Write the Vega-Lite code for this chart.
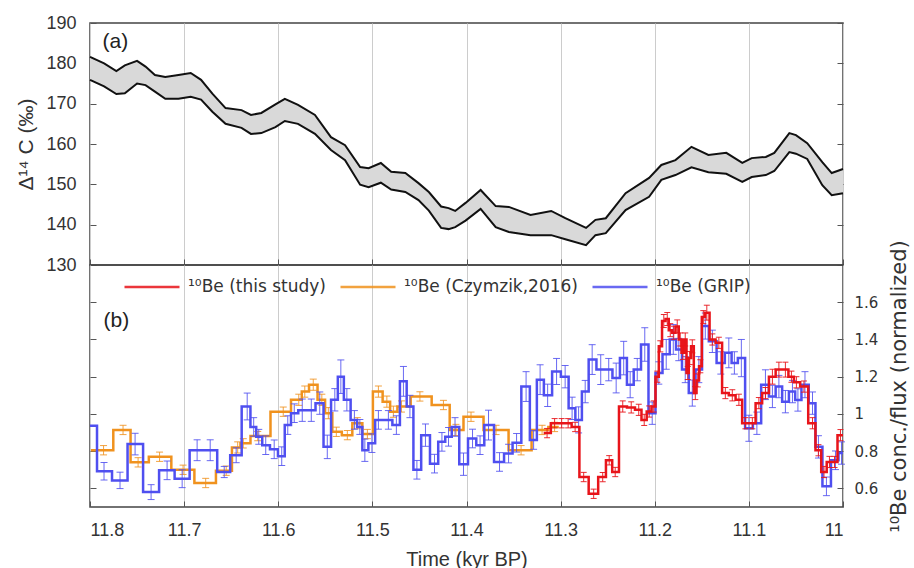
{
  "$schema": "https://vega.github.io/schema/vega-lite/v6.json",
  "padding": {"left": 15, "top": 13, "right": 0, "bottom": 0},
  "background": "white",
  "config": {
    "view": {"stroke": "#444", "strokeWidth": 1.5},
    "concat": {"spacing": 0},
    "font": "Liberation Sans",
    "axis": {"labelFont": "Liberation Sans", "labelFontSize": 18, "labelColor": "#333", "titleFont": "Liberation Sans", "titleFontSize": 20, "titleFontWeight": "normal", "titleColor": "#333", "domain": false, "tickColor": "#555", "tickSize": -6, "gridColor": "#cccccc", "gridWidth": 1}
  },
  "datasets": {
    "d14c": [
      {"t": 11.800, "hi": 181.6, "lo": 175.9}, {"t": 11.785, "hi": 180.0, "lo": 174.3}, {"t": 11.772, "hi": 178.1, "lo": 172.4},
      {"t": 11.763, "hi": 179.5, "lo": 172.6}, {"t": 11.750, "hi": 180.6, "lo": 175.0}, {"t": 11.741, "hi": 179.2, "lo": 174.6},
      {"t": 11.731, "hi": 177.1, "lo": 173.0}, {"t": 11.720, "hi": 176.6, "lo": 171.2}, {"t": 11.706, "hi": 177.1, "lo": 171.2},
      {"t": 11.693, "hi": 177.6, "lo": 171.7}, {"t": 11.682, "hi": 175.9, "lo": 171.0}, {"t": 11.670, "hi": 172.5, "lo": 168.0},
      {"t": 11.656, "hi": 168.9, "lo": 165.0}, {"t": 11.639, "hi": 168.4, "lo": 164.0}, {"t": 11.629, "hi": 167.2, "lo": 162.5},
      {"t": 11.618, "hi": 167.7, "lo": 162.7}, {"t": 11.603, "hi": 169.8, "lo": 164.2}, {"t": 11.593, "hi": 171.2, "lo": 165.7},
      {"t": 11.579, "hi": 169.7, "lo": 165.0}, {"t": 11.561, "hi": 167.2, "lo": 162.5}, {"t": 11.544, "hi": 161.7, "lo": 158.5},
      {"t": 11.529, "hi": 159.7, "lo": 156.0}, {"t": 11.513, "hi": 154.3, "lo": 149.9}, {"t": 11.504, "hi": 154.0, "lo": 149.3},
      {"t": 11.491, "hi": 155.3, "lo": 150.4}, {"t": 11.480, "hi": 153.1, "lo": 148.7}, {"t": 11.465, "hi": 152.8, "lo": 148.1},
      {"t": 11.451, "hi": 150.3, "lo": 146.1}, {"t": 11.440, "hi": 148.1, "lo": 143.5}, {"t": 11.427, "hi": 144.5, "lo": 139.2},
      {"t": 11.419, "hi": 144.1, "lo": 138.9}, {"t": 11.412, "hi": 143.4, "lo": 139.4}, {"t": 11.401, "hi": 145.4, "lo": 141.0},
      {"t": 11.385, "hi": 148.6, "lo": 143.9}, {"t": 11.369, "hi": 144.6, "lo": 139.4}, {"t": 11.355, "hi": 144.4, "lo": 138.2},
      {"t": 11.332, "hi": 142.4, "lo": 137.4}, {"t": 11.310, "hi": 143.4, "lo": 137.4}, {"t": 11.295, "hi": 141.6, "lo": 136.4},
      {"t": 11.273, "hi": 139.2, "lo": 134.9}, {"t": 11.263, "hi": 141.2, "lo": 137.4}, {"t": 11.252, "hi": 141.6, "lo": 137.9},
      {"t": 11.231, "hi": 147.8, "lo": 143.6}, {"t": 11.206, "hi": 151.6, "lo": 146.9}, {"t": 11.193, "hi": 154.8, "lo": 151.1},
      {"t": 11.178, "hi": 156.0, "lo": 152.3}, {"t": 11.161, "hi": 159.3, "lo": 154.2}, {"t": 11.143, "hi": 157.3, "lo": 153.0},
      {"t": 11.124, "hi": 157.8, "lo": 152.6}, {"t": 11.107, "hi": 155.3, "lo": 150.6}, {"t": 11.097, "hi": 156.5, "lo": 151.8},
      {"t": 11.082, "hi": 156.8, "lo": 152.3}, {"t": 11.073, "hi": 157.8, "lo": 153.3}, {"t": 11.057, "hi": 162.7, "lo": 158.0},
      {"t": 11.050, "hi": 162.2, "lo": 157.6}, {"t": 11.038, "hi": 160.2, "lo": 156.3}, {"t": 11.022, "hi": 155.5, "lo": 149.8},
      {"t": 11.012, "hi": 152.8, "lo": 147.3}, {"t": 11.000, "hi": 153.8, "lo": 147.8}
    ],
    "be": [
      {"s": "O", "t": 11.799, "v": 0.805}, {"s": "O", "t": 11.7856, "v": 0.805, "e": 0.025}, {"s": "O", "t": 11.7649, "v": 0.914, "e": 0.025},
      {"s": "O", "t": 11.7489, "v": 0.74, "e": 0.025}, {"s": "O", "t": 11.7261, "v": 0.77, "e": 0.025}, {"s": "O", "t": 11.7011, "v": 0.70, "e": 0.025},
      {"s": "O", "t": 11.6771, "v": 0.629, "e": 0.025}, {"s": "O", "t": 11.6553, "v": 0.695, "e": 0.025}, {"s": "O", "t": 11.6431, "v": 0.82, "e": 0.03},
      {"s": "O", "t": 11.6372, "v": 0.842, "e": 0.025}, {"s": "O", "t": 11.6218, "v": 0.881, "e": 0.025}, {"s": "O", "t": 11.5947, "v": 1.012, "e": 0.025},
      {"s": "O", "t": 11.5782, "v": 1.076, "e": 0.03}, {"s": "O", "t": 11.5718, "v": 1.12, "e": 0.03}, {"s": "O", "t": 11.5628, "v": 1.157, "e": 0.03},
      {"s": "O", "t": 11.5537, "v": 1.076, "e": 0.03}, {"s": "O", "t": 11.5468, "v": 1.004, "e": 0.03}, {"s": "O", "t": 11.5383, "v": 0.904, "e": 0.025},
      {"s": "O", "t": 11.5266, "v": 0.886, "e": 0.025}, {"s": "O", "t": 11.5160, "v": 0.95, "e": 0.03}, {"s": "O", "t": 11.5053, "v": 0.892, "e": 0.025},
      {"s": "O", "t": 11.4936, "v": 1.12, "e": 0.03}, {"s": "O", "t": 11.4846, "v": 1.066, "e": 0.03}, {"s": "O", "t": 11.4777, "v": 1.012, "e": 0.03},
      {"s": "O", "t": 11.4691, "v": 1.04, "e": 0.03}, {"s": "O", "t": 11.4495, "v": 1.094, "e": 0.025}, {"s": "O", "t": 11.4245, "v": 1.048, "e": 0.025},
      {"s": "O", "t": 11.4112, "v": 0.914, "e": 0.03}, {"s": "O", "t": 11.3952, "v": 0.985, "e": 0.025}, {"s": "O", "t": 11.3686, "v": 0.914, "e": 0.025},
      {"s": "O", "t": 11.3420, "v": 0.805, "e": 0.025}, {"s": "O", "t": 11.3197, "v": 0.914, "e": 0.025}, {"s": "O", "t": 11.3064, "v": 0.93, "e": 0.025},
      {"s": "O", "t": 11.302, "v": 0.93},

      {"s": "B", "t": 11.8, "v": 0.937}, {"s": "B", "t": 11.7851, "v": 0.692, "e": 0.047}, {"s": "B", "t": 11.7681, "v": 0.643, "e": 0.044},
      {"s": "B", "t": 11.7521, "v": 0.838, "e": 0.058}, {"s": "B", "t": 11.7351, "v": 0.58, "e": 0.04}, {"s": "B", "t": 11.7181, "v": 0.697, "e": 0.05},
      {"s": "B", "t": 11.7021, "v": 0.652, "e": 0.048}, {"s": "B", "t": 11.6862, "v": 0.805, "e": 0.056}, {"s": "B", "t": 11.6723, "v": 0.805, "e": 0.056},
      {"s": "B", "t": 11.6574, "v": 0.688, "e": 0.03}, {"s": "B", "t": 11.6447, "v": 0.778, "e": 0.04}, {"s": "B", "t": 11.6330, "v": 1.04, "e": 0.072},
      {"s": "B", "t": 11.6261, "v": 0.93, "e": 0.05}, {"s": "B", "t": 11.6207, "v": 0.877, "e": 0.04}, {"s": "B", "t": 11.6133, "v": 0.832, "e": 0.05},
      {"s": "B", "t": 11.6043, "v": 0.81, "e": 0.05}, {"s": "B", "t": 11.5963, "v": 0.773, "e": 0.05}, {"s": "B", "t": 11.5899, "v": 0.94, "e": 0.05},
      {"s": "B", "t": 11.5830, "v": 1.004, "e": 0.05}, {"s": "B", "t": 11.5745, "v": 1.02, "e": 0.06}, {"s": "B", "t": 11.5649, "v": 1.02, "e": 0.06},
      {"s": "B", "t": 11.5559, "v": 1.058, "e": 0.06}, {"s": "B", "t": 11.5479, "v": 0.823, "e": 0.063}, {"s": "B", "t": 11.5399, "v": 1.076, "e": 0.06},
      {"s": "B", "t": 11.5335, "v": 1.2, "e": 0.09}, {"s": "B", "t": 11.5271, "v": 1.076, "e": 0.06}, {"s": "B", "t": 11.5191, "v": 0.968, "e": 0.05},
      {"s": "B", "t": 11.5133, "v": 0.93, "e": 0.04}, {"s": "B", "t": 11.5080, "v": 0.805, "e": 0.06}, {"s": "B", "t": 11.5005, "v": 0.843, "e": 0.05},
      {"s": "B", "t": 11.4936, "v": 0.968, "e": 0.05}, {"s": "B", "t": 11.4830, "v": 0.968, "e": 0.05}, {"s": "B", "t": 11.4745, "v": 0.94, "e": 0.05},
      {"s": "B", "t": 11.4670, "v": 1.175, "e": 0.08}, {"s": "B", "t": 11.4601, "v": 1.04, "e": 0.06}, {"s": "B", "t": 11.4527, "v": 0.70, "e": 0.05},
      {"s": "B", "t": 11.4436, "v": 0.886, "e": 0.06}, {"s": "B", "t": 11.4340, "v": 0.733, "e": 0.05}, {"s": "B", "t": 11.4261, "v": 0.85, "e": 0.05},
      {"s": "B", "t": 11.4191, "v": 0.877, "e": 0.05}, {"s": "B", "t": 11.4122, "v": 0.93, "e": 0.05}, {"s": "B", "t": 11.4032, "v": 0.73, "e": 0.06},
      {"s": "B", "t": 11.3936, "v": 0.868, "e": 0.05}, {"s": "B", "t": 11.3856, "v": 0.832, "e": 0.05}, {"s": "B", "t": 11.3766, "v": 0.94, "e": 0.08},
      {"s": "B", "t": 11.3649, "v": 0.742, "e": 0.05}, {"s": "B", "t": 11.3553, "v": 0.787, "e": 0.05}, {"s": "B", "t": 11.3468, "v": 0.845, "e": 0.05},
      {"s": "B", "t": 11.3367, "v": 1.147, "e": 0.08}, {"s": "B", "t": 11.3287, "v": 0.86, "e": 0.05}, {"s": "B", "t": 11.3218, "v": 1.184, "e": 0.08},
      {"s": "B", "t": 11.3138, "v": 1.10, "e": 0.06}, {"s": "B", "t": 11.3043, "v": 1.228, "e": 0.07}, {"s": "B", "t": 11.2952, "v": 1.20, "e": 0.06},
      {"s": "B", "t": 11.2878, "v": 1.03, "e": 0.06}, {"s": "B", "t": 11.2809, "v": 0.968, "e": 0.07}, {"s": "B", "t": 11.2739, "v": 1.12, "e": 0.06},
      {"s": "B", "t": 11.2665, "v": 1.292, "e": 0.08}, {"s": "B", "t": 11.2574, "v": 1.238, "e": 0.08}, {"s": "B", "t": 11.2489, "v": 1.238, "e": 0.06},
      {"s": "B", "t": 11.2410, "v": 1.193, "e": 0.08}, {"s": "B", "t": 11.2330, "v": 1.30, "e": 0.09}, {"s": "B", "t": 11.2261, "v": 1.157, "e": 0.07},
      {"s": "B", "t": 11.2186, "v": 1.238, "e": 0.06}, {"s": "B", "t": 11.2106, "v": 1.373, "e": 0.09}, {"s": "B", "t": 11.2027, "v": 1.004, "e": 0.06},
      {"s": "B", "t": 11.1957, "v": 1.22, "e": 0.06}, {"s": "B", "t": 11.1878, "v": 1.32, "e": 0.08}, {"s": "B", "t": 11.1803, "v": 1.40, "e": 0.08},
      {"s": "B", "t": 11.1745, "v": 1.346, "e": 0.06}, {"s": "B", "t": 11.1676, "v": 1.238, "e": 0.07}, {"s": "B", "t": 11.1601, "v": 1.112, "e": 0.07},
      {"s": "B", "t": 11.1532, "v": 1.238, "e": 0.07}, {"s": "B", "t": 11.1463, "v": 1.472, "e": 0.07}, {"s": "B", "t": 11.1388, "v": 1.39, "e": 0.06},
      {"s": "B", "t": 11.1298, "v": 1.274, "e": 0.06}, {"s": "B", "t": 11.1213, "v": 1.328, "e": 0.08}, {"s": "B", "t": 11.1154, "v": 1.274, "e": 0.06},
      {"s": "B", "t": 11.1080, "v": 1.30, "e": 0.1}, {"s": "B", "t": 11.1000, "v": 0.923, "e": 0.07}, {"s": "B", "t": 11.0915, "v": 0.95, "e": 0.06},
      {"s": "B", "t": 11.0824, "v": 1.157, "e": 0.08}, {"s": "B", "t": 11.0750, "v": 1.094, "e": 0.06}, {"s": "B", "t": 11.0681, "v": 1.147, "e": 0.06},
      {"s": "B", "t": 11.0612, "v": 1.066, "e": 0.06}, {"s": "B", "t": 11.0537, "v": 1.12, "e": 0.06}, {"s": "B", "t": 11.0479, "v": 1.075, "e": 0.06},
      {"s": "B", "t": 11.0404, "v": 1.157, "e": 0.07}, {"s": "B", "t": 11.0324, "v": 1.058, "e": 0.06}, {"s": "B", "t": 11.0261, "v": 0.823, "e": 0.06},
      {"s": "B", "t": 11.0176, "v": 0.611, "e": 0.05}, {"s": "B", "t": 11.0080, "v": 0.751, "e": 0.05}, {"s": "B", "t": 11.0016, "v": 0.79, "e": 0.06},
      {"s": "B", "t": 11.0, "v": 0.79},

      {"s": "R", "t": 11.318, "v": 0.897}, {"s": "R", "t": 11.3144, "v": 0.897, "e": 0.025}, {"s": "R", "t": 11.3064, "v": 0.95, "e": 0.025},
      {"s": "R", "t": 11.2989, "v": 0.95, "e": 0.025}, {"s": "R", "t": 11.2920, "v": 0.95, "e": 0.025}, {"s": "R", "t": 11.2846, "v": 0.93, "e": 0.025},
      {"s": "R", "t": 11.2755, "v": 0.661, "e": 0.025}, {"s": "R", "t": 11.2649, "v": 0.571, "e": 0.025}, {"s": "R", "t": 11.2553, "v": 0.661, "e": 0.025},
      {"s": "R", "t": 11.2484, "v": 0.751, "e": 0.025}, {"s": "R", "t": 11.2420, "v": 0.688, "e": 0.025}, {"s": "R", "t": 11.2340, "v": 1.04, "e": 0.03},
      {"s": "R", "t": 11.2250, "v": 1.035, "e": 0.03}, {"s": "R", "t": 11.2170, "v": 1.022, "e": 0.03}, {"s": "R", "t": 11.2112, "v": 0.968, "e": 0.03},
      {"s": "R", "t": 11.2059, "v": 1.013, "e": 0.03}, {"s": "R", "t": 11.2011, "v": 1.04, "e": 0.03}, {"s": "R", "t": 11.1973, "v": 1.20, "e": 0.03},
      {"s": "R", "t": 11.1941, "v": 1.363, "e": 0.03}, {"s": "R", "t": 11.1904, "v": 1.499, "e": 0.035}, {"s": "R", "t": 11.1867, "v": 1.51, "e": 0.035},
      {"s": "R", "t": 11.1835, "v": 1.45, "e": 0.035}, {"s": "R", "t": 11.1798, "v": 1.436, "e": 0.035}, {"s": "R", "t": 11.1761, "v": 1.47, "e": 0.035},
      {"s": "R", "t": 11.1729, "v": 1.40, "e": 0.035}, {"s": "R", "t": 11.1702, "v": 1.328, "e": 0.035}, {"s": "R", "t": 11.1676, "v": 1.40, "e": 0.035},
      {"s": "R", "t": 11.1649, "v": 1.22, "e": 0.035}, {"s": "R", "t": 11.1628, "v": 1.30, "e": 0.035}, {"s": "R", "t": 11.1601, "v": 1.363, "e": 0.035},
      {"s": "R", "t": 11.1569, "v": 1.112, "e": 0.035}, {"s": "R", "t": 11.1543, "v": 1.18, "e": 0.035}, {"s": "R", "t": 11.1516, "v": 1.256, "e": 0.035},
      {"s": "R", "t": 11.1484, "v": 1.52, "e": 0.035}, {"s": "R", "t": 11.1447, "v": 1.544, "e": 0.04}, {"s": "R", "t": 11.1388, "v": 1.40, "e": 0.03},
      {"s": "R", "t": 11.1319, "v": 1.382, "e": 0.03}, {"s": "R", "t": 11.1250, "v": 1.112, "e": 0.03}, {"s": "R", "t": 11.1176, "v": 1.10, "e": 0.03},
      {"s": "R", "t": 11.1106, "v": 1.076, "e": 0.03}, {"s": "R", "t": 11.1037, "v": 0.95, "e": 0.03}, {"s": "R", "t": 11.0963, "v": 0.95, "e": 0.03},
      {"s": "R", "t": 11.0894, "v": 1.058, "e": 0.03}, {"s": "R", "t": 11.0824, "v": 1.112, "e": 0.03}, {"s": "R", "t": 11.0750, "v": 1.20, "e": 0.04},
      {"s": "R", "t": 11.0681, "v": 1.238, "e": 0.04}, {"s": "R", "t": 11.0612, "v": 1.238, "e": 0.04}, {"s": "R", "t": 11.0548, "v": 1.20, "e": 0.03},
      {"s": "R", "t": 11.0495, "v": 1.17, "e": 0.03}, {"s": "R", "t": 11.0415, "v": 1.147, "e": 0.03}, {"s": "R", "t": 11.0324, "v": 0.95, "e": 0.03},
      {"s": "R", "t": 11.0261, "v": 0.805, "e": 0.03}, {"s": "R", "t": 11.0202, "v": 0.688, "e": 0.03}, {"s": "R", "t": 11.0144, "v": 0.742, "e": 0.03},
      {"s": "R", "t": 11.0090, "v": 0.742, "e": 0.03}, {"s": "R", "t": 11.0027, "v": 0.886, "e": 0.03}, {"s": "R", "t": 11.0, "v": 0.886}
    ],
    "one": [{"k": 1}]
  },
  "spacing": 0,
  "bounds": "flush",
  "resolve": {"legend": {"color": "independent"}},
  "vconcat": [
    {
      "width": 753,
      "height": 242,
      "data": {"name": "d14c"},
      "resolve": {"axis": {"y": "independent"}},
      "layer": [
        {
          "mark": {"type": "area", "fill": "#d9d9d9", "stroke": null},
          "encoding": {
            "x": {"field": "t", "type": "quantitative", "scale": {"domain": [11, 11.8], "reverse": true, "nice": false, "zero": false},
                  "axis": {"values": [11, 11.1, 11.2, 11.3, 11.4, 11.5, 11.6, 11.7, 11.8], "labels": false, "title": null, "grid": true}},
            "y": {"field": "lo", "type": "quantitative", "scale": {"domain": [130, 190], "nice": false, "zero": false},
                  "axis": {"values": [130, 140, 150, 160, 170, 180, 190], "title": "Δ¹⁴ C (‰)", "titleFontSize": 21, "grid": false, "labelPadding": 20, "titlePadding": 9}},
            "y2": {"field": "hi"}
          }
        },
        {
          "mark": {"type": "line", "color": "#111", "strokeWidth": 2},
          "encoding": {
            "x": {"field": "t", "type": "quantitative"},
            "y": {"field": "hi", "type": "quantitative", "axis": null}
          }
        },
        {
          "mark": {"type": "line", "color": "#111", "strokeWidth": 2},
          "encoding": {
            "x": {"field": "t", "type": "quantitative"},
            "y": {"field": "lo", "type": "quantitative", "axis": {"orient": "right", "labels": false, "title": null, "grid": false, "values": [130, 140, 150, 160, 170, 180, 190]}}
          }
        },
        {
          "data": {"name": "one"},
          "mark": {"type": "text", "text": "(a)", "fontSize": 21, "fontWeight": "normal", "font": "Liberation Sans", "color": "#222", "align": "center", "baseline": "middle"},
          "encoding": {
            "x": {"datum": 11.773, "type": "quantitative"},
            "y": {"datum": 185.3, "type": "quantitative", "axis": null}
          }
        }
      ]
    },
    {
      "width": 753,
      "height": 242,
      "data": {"name": "be"},
      "resolve": {"axis": {"y": "independent"}},
      "layer": [
        {
          "transform": [{"filter": {"field": "s", "equal": "O"}}],
          "mark": {"type": "line", "interpolate": "step", "strokeWidth": 2.5},
          "encoding": {
            "x": {"field": "t", "type": "quantitative", "scale": {"domain": [11, 11.8], "reverse": true, "nice": false, "zero": false},
                  "axis": {"values": [11, 11.1, 11.2, 11.3, 11.4, 11.5, 11.6, 11.7, 11.8], "format": "~g", "title": "Time (kyr BP)", "grid": true, "labelPadding": 20, "titlePadding": 10, "titleFontSize": 20}},
            "y": {"field": "v", "type": "quantitative", "scale": {"domain": [0.5, 1.8], "nice": false, "zero": false},
                  "axis": {"orient": "right", "values": [0.6, 0.8, 1, 1.2, 1.4, 1.6], "format": "~g", "grid": false, "labelFont": "DejaVu Sans", "labelFontSize": 15, "labelPadding": 17,
                           "title": "¹⁰Be conc./flux (normalized)", "titleFont": "DejaVu Sans", "titleFontSize": 21, "titleAngle": 270, "titleBaseline": "top", "titlePadding": 11}},
            "color": {"field": "s", "type": "nominal",
                      "scale": {"domain": ["R", "O", "B"], "range": ["#e8141a", "#f0921e", "#4f4ff0"]},
                      "legend": {"orient": "none", "legendX": 33, "legendY": -7, "direction": "horizontal", "title": null,
                                 "symbolType": "stroke", "symbolSize": 3025, "symbolStrokeWidth": 2.5,
                                 "labelFont": "DejaVu Sans", "labelFontSize": 17, "labelColor": "#333", "labelOffset": 7, "columnPadding": 9, "labelLimit": 400,
                                 "labelExpr": "datum.value == 'R' ? '¹⁰Be (this study)' : datum.value == 'O' ? '¹⁰Be (Czymzik,2016)' : '¹⁰Be (GRIP)'"}}
          }
        },
        {
          "transform": [{"filter": {"field": "s", "equal": "O"}}, {"filter": "isValid(datum.e)"}],
          "mark": {"type": "errorbar", "ticks": {"size": 7}, "thickness": 1, "opacity": 0.85},
          "encoding": {
            "x": {"field": "t", "type": "quantitative"},
            "y": {"field": "v", "type": "quantitative", "axis": null},
            "yError": {"field": "e"},
            "color": {"field": "s", "type": "nominal"}
          }
        },
        {
          "transform": [{"filter": {"field": "s", "equal": "B"}}],
          "mark": {"type": "line", "interpolate": "step", "strokeWidth": 2.5},
          "encoding": {
            "x": {"field": "t", "type": "quantitative"},
            "y": {"field": "v", "type": "quantitative", "axis": {"orient": "left", "labels": false, "title": null, "grid": false, "values": [0.6, 0.8, 1, 1.2, 1.4, 1.6]}},
            "color": {"field": "s", "type": "nominal"}
          }
        },
        {
          "transform": [{"filter": {"field": "s", "equal": "B"}}, {"filter": "isValid(datum.e)"}],
          "mark": {"type": "errorbar", "ticks": {"size": 7}, "thickness": 1, "opacity": 0.85},
          "encoding": {
            "x": {"field": "t", "type": "quantitative"},
            "y": {"field": "v", "type": "quantitative", "axis": null},
            "yError": {"field": "e"},
            "color": {"field": "s", "type": "nominal"}
          }
        },
        {
          "transform": [{"filter": {"field": "s", "equal": "R"}}],
          "mark": {"type": "line", "interpolate": "step", "strokeWidth": 2.5},
          "encoding": {
            "x": {"field": "t", "type": "quantitative"},
            "y": {"field": "v", "type": "quantitative", "axis": null},
            "color": {"field": "s", "type": "nominal"}
          }
        },
        {
          "transform": [{"filter": {"field": "s", "equal": "R"}}, {"filter": "isValid(datum.e)"}],
          "mark": {"type": "errorbar", "ticks": {"size": 6}, "thickness": 1, "opacity": 0.9},
          "encoding": {
            "x": {"field": "t", "type": "quantitative"},
            "y": {"field": "v", "type": "quantitative", "axis": null},
            "yError": {"field": "e"},
            "color": {"field": "s", "type": "nominal"}
          }
        },
        {
          "data": {"name": "one"},
          "mark": {"type": "text", "text": "(b)", "fontSize": 21, "fontWeight": "normal", "font": "Liberation Sans", "color": "#222", "align": "center", "baseline": "middle"},
          "encoding": {
            "x": {"datum": 11.772, "type": "quantitative"},
            "y": {"datum": 1.497, "type": "quantitative", "axis": null}
          }
        }
      ]
    }
  ]
}
